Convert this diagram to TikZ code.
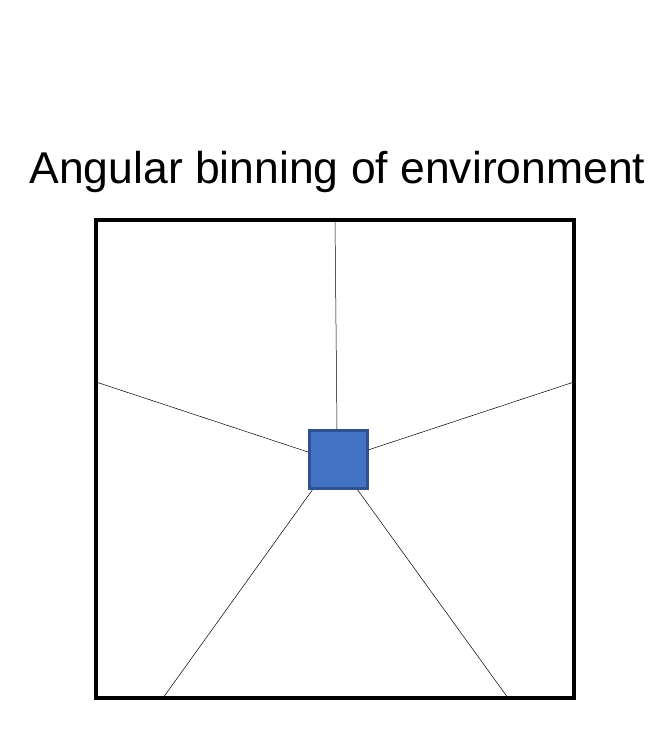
\documentclass[tikz,border=0pt]{standalone}
\usepackage{fontspec}
\setmainfont{Liberation Sans}
\begin{document}
\begin{tikzpicture}[x=1pt,y=-1pt,
  frame/.style={draw=black,line width=4pt},
  ray/.style={draw=black,line width=0.5pt},
  agent/.style={fill={rgb,255:red,68;green,114;blue,196},line width=3pt,minimum size=58pt,inner sep=0pt}]
\useasboundingbox (0,0) rectangle (670,756);
\node (title) at (337.5,172) {\fontsize{44.5}{52}\selectfont Angular binning of environment};
\node[frame,minimum size=478pt,inner sep=0pt] (box) at (335,459) {};
\coordinate (t) at (335,220);
\coordinate (l) at (96,382);
\coordinate (r) at (574,382);
\coordinate (bl) at (163,698);
\coordinate (br) at (508,698);
\coordinate (at) at (337,429);
\coordinate (al) at (308,452);
\coordinate (ar) at (368,450);
\coordinate (abl) at (313,489);
\coordinate (abr) at (357,489);
\draw[ray] (t) -- (at);
\draw[ray] (l) -- (al);
\draw[ray] (r) -- (ar);
\draw[ray] (bl) -- (abl);
\draw[ray] (br) -- (abr);
\node[agent,draw={rgb,255:red,47;green,82;blue,143}] (a) at (338,459) {};
\end{tikzpicture}
\end{document}
